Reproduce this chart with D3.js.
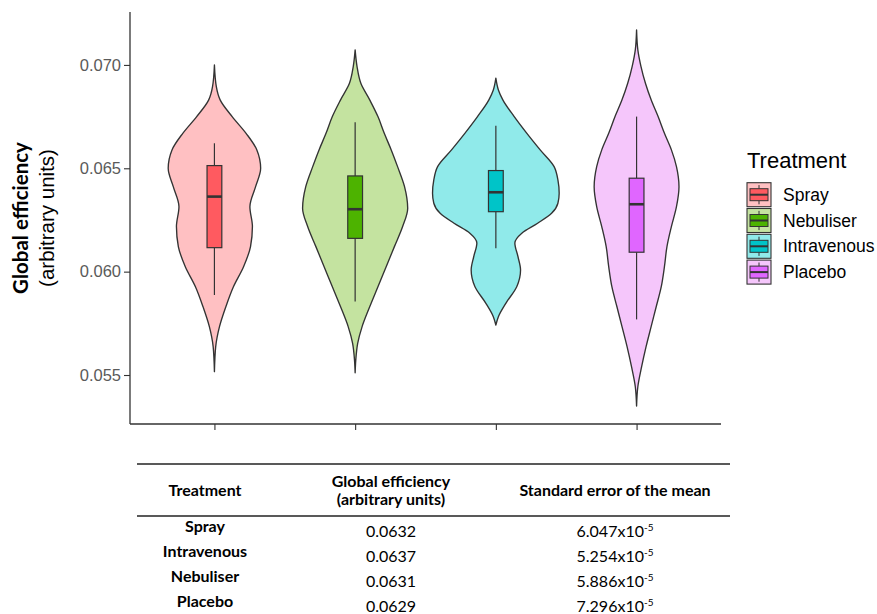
<!DOCTYPE html>
<html>
<head>
<meta charset="utf-8">
<script src="https://cdn.jsdelivr.net/npm/d3@7"></script>
<style>
  html, body { margin: 0; padding: 0; background: #fff; }
  svg { display: block; }
</style>
</head>
<body>
<svg id="chart" width="877" height="614"></svg>
<script>
// ---------------- DATA ----------------
const categories = ["Spray", "Nebuliser", "Intravenous", "Placebo"];
const yTicks = [0.055, 0.060, 0.065, 0.070];

// violin outlines: [value, relative density]
const sprayDensity = [[0.0700,0],[0.06895,0.03],[0.06831,0.09],[0.06750,0.28],[0.06669,0.50],[0.06589,0.67],[0.06500,0.73],[0.06411,0.65],[0.06314,0.56],[0.06218,0.60],[0.06121,0.57],[0.06024,0.46],[0.05927,0.30],[0.05830,0.18],[0.05734,0.08],[0.05637,0.02],[0.05516,0]];
const nebuliserDensity = [[0.07073,0],[0.06992,0.03],[0.06911,0.09],[0.06831,0.23],[0.06750,0.36],[0.06669,0.46],[0.06589,0.57],[0.06508,0.67],[0.06411,0.78],[0.06307,0.83],[0.06218,0.75],[0.06121,0.62],[0.06024,0.49],[0.05927,0.36],[0.05830,0.23],[0.05734,0.11],[0.05653,0.04],[0.05572,0.01],[0.05511,0]];
const intravenousDensity = [[0.06936,0],[0.06879,0.04],[0.06831,0.11],[0.06750,0.29],[0.06669,0.49],[0.06589,0.70],[0.06508,0.92],[0.06444,0.98],[0.06379,1.0],[0.06331,0.98],[0.06282,0.88],[0.06234,0.66],[0.06186,0.41],[0.06139,0.30],[0.06072,0.35],[0.06008,0.39],[0.05927,0.33],[0.05848,0.16],[0.05782,0.04],[0.05742,0]];
const placeboDensity = [[0.07169,0],[0.07073,0.02],[0.06992,0.07],[0.06911,0.14],[0.06831,0.23],[0.06750,0.34],[0.06669,0.44],[0.06589,0.55],[0.06508,0.63],[0.06411,0.67],[0.06314,0.63],[0.06218,0.55],[0.06121,0.48],[0.06024,0.44],[0.05927,0.39],[0.05830,0.31],[0.05734,0.23],[0.05637,0.15],[0.05540,0.08],[0.05443,0.02],[0.05350,0]];

// boxplot statistics (same order as categories)
const whiskerLow  = [0.05887, 0.05855, 0.06113, 0.05769];
const boxQ1       = [0.06116, 0.06161, 0.06290, 0.06094];
const boxMedian   = [0.06363, 0.06302, 0.06384, 0.06326];
const boxQ3       = [0.06513, 0.06463, 0.06489, 0.06452];
const whiskerHigh = [0.06621, 0.06723, 0.06706, 0.06750];

// table
const tableHeaders = ["Treatment", "Global efficiency", "(arbitrary units)", "Standard error of the mean"];
const tableTreatments = ["Spray", "Intravenous", "Nebuliser", "Placebo"];
const tableMeans = ["0.0632", "0.0637", "0.0631", "0.0629"];
const tableSEM = ["6.047", "5.254", "5.886", "7.296"];
const tableSEMExp = ["-5", "-5", "-5", "-5"];

// ---------------- STYLE ----------------
const violinFills = ["#FFC0C2", "#C4E3A0", "#90EAEA", "#F5C6FB"];
const boxFills = ["#FF5A60", "#4DB300", "#00C4C8", "#E066FF"];
const densities = [sprayDensity, nebuliserDensity, intravenousDensity, placeboDensity];
const ink = "#333333";

const svg = d3.select("#chart");
const plot = { left: 130, right: 721, top: 12, bottom: 424 };

const x = d3.scalePoint().domain(categories).range([plot.left, plot.right]).padding(0.6);
const y = d3.scaleLinear().domain([0.05263, 0.07256]).range([plot.bottom, plot.top]);
const step = x.step();
const w = d3.scaleLinear().domain([0, 1]).range([0, step * 0.45]);
const boxHalf = step * 0.105 / 2;

// violins
categories.forEach((c, i) => {
  const cx = x(c);
  const area = d3.area()
    .y(d => y(d[0]))
    .x0(d => cx - w(d[1]))
    .x1(d => cx + w(d[1]))
    .curve(d3.curveMonotoneY);
  const data = densities[i].slice().sort((a, b) => a[0] - b[0]);
  svg.append("path")
    .attr("d", area(data))
    .attr("fill", violinFills[i])
    .attr("stroke", ink)
    .attr("stroke-width", 1.35)
    .attr("stroke-linejoin", "round");
});

// boxplots
categories.forEach((c, i) => {
  const cx = x(c);
  const g = svg.append("g");
  g.append("line").attr("x1", cx).attr("x2", cx)
    .attr("y1", y(whiskerHigh[i])).attr("y2", y(boxQ3[i]))
    .attr("stroke", ink).attr("stroke-width", 1.2);
  g.append("line").attr("x1", cx).attr("x2", cx)
    .attr("y1", y(boxQ1[i])).attr("y2", y(whiskerLow[i]))
    .attr("stroke", ink).attr("stroke-width", 1.2);
  g.append("rect")
    .attr("x", cx - boxHalf).attr("width", boxHalf * 2)
    .attr("y", y(boxQ3[i])).attr("height", y(boxQ1[i]) - y(boxQ3[i]))
    .attr("fill", boxFills[i]).attr("stroke", ink).attr("stroke-width", 1.2);
  g.append("line").attr("x1", cx - boxHalf).attr("x2", cx + boxHalf)
    .attr("y1", y(boxMedian[i])).attr("y2", y(boxMedian[i]))
    .attr("stroke", ink).attr("stroke-width", 2.6);
});

// axes
const yAxis = d3.axisLeft(y).tickValues(yTicks).tickFormat(d3.format(".3f")).tickSize(6).tickPadding(3);
const gy = svg.append("g").attr("transform", `translate(${plot.left},0)`).call(yAxis);
gy.select(".domain").attr("d", `M0,${plot.top}V${plot.bottom}`).attr("stroke", ink).attr("stroke-width", 1.3);
gy.selectAll(".tick line").attr("stroke", ink).attr("stroke-width", 1.1);
gy.selectAll(".tick text").attr("fill", "#5a5a5a").attr("font-family", "Liberation Sans, Arial, sans-serif").attr("font-size", 16.5);

const xAxis = d3.axisBottom(x).tickSize(6).tickFormat("");
const gx = svg.append("g").attr("transform", `translate(0,${plot.bottom})`).call(xAxis);
gx.select(".domain").attr("d", `M${plot.left},0H${plot.right}`).attr("stroke", ink).attr("stroke-width", 1.3);
gx.selectAll(".tick line").attr("stroke", ink).attr("stroke-width", 1.1);

// y-axis title
const cyT = (plot.top + plot.bottom) / 2;
svg.append("text")
  .attr("transform", `translate(28,${cyT}) rotate(-90)`)
  .attr("text-anchor", "middle")
  .attr("font-family", "Lato, sans-serif").attr("font-weight", "bold").attr("font-size", 20.5)
  .attr("fill", "#000").text("Global efficiency");
svg.append("text")
  .attr("transform", `translate(54,${cyT}) rotate(-90)`)
  .attr("text-anchor", "middle")
  .attr("font-family", "Liberation Sans, Arial, sans-serif").attr("font-size", 20.5)
  .attr("fill", "#000").text("(arbitrary units)");

// legend
const lg = svg.append("g").attr("transform", "translate(747,0)");
lg.append("text").attr("x", 0).attr("y", 168)
  .attr("font-family", "Liberation Sans, Arial, sans-serif").attr("font-size", 22)
  .attr("fill", "#000").text("Treatment");
const keySize = 24, keyStep = 25.8, keyTop = 182.7;
categories.forEach((c, i) => {
  const ky = keyTop + i * keyStep;
  const k = lg.append("g").attr("transform", `translate(0,${ky})`);
  k.append("rect").attr("x", 0).attr("y", 0).attr("width", keySize).attr("height", keySize)
    .attr("fill", violinFills[i]).attr("stroke", ink).attr("stroke-width", 1.1);
  const kc = keySize / 2;
  k.append("line").attr("x1", kc).attr("x2", kc).attr("y1", keySize * 0.1).attr("y2", keySize * 0.25)
    .attr("stroke", ink).attr("stroke-width", 1);
  k.append("line").attr("x1", kc).attr("x2", kc).attr("y1", keySize * 0.75).attr("y2", keySize * 0.9)
    .attr("stroke", ink).attr("stroke-width", 1);
  k.append("rect").attr("x", keySize * 0.125).attr("y", keySize * 0.25)
    .attr("width", keySize * 0.75).attr("height", keySize * 0.5)
    .attr("fill", boxFills[i]).attr("stroke", ink).attr("stroke-width", 1);
  k.append("line").attr("x1", keySize * 0.125).attr("x2", keySize * 0.875)
    .attr("y1", kc).attr("y2", kc).attr("stroke", ink).attr("stroke-width", 2);
  lg.append("text").attr("x", 36).attr("y", ky + kc + 6)
    .attr("font-family", "Liberation Sans, Arial, sans-serif").attr("font-size", 17.5)
    .attr("fill", "#000").text(c);
});

// table
const tb = svg.append("g");
const tFont = "Lato, 'Open Sans', sans-serif";
const tSize = 16;
const colX = [205, 391, 615];
tb.append("line").attr("x1", 137).attr("x2", 730).attr("y1", 464).attr("y2", 464)
  .attr("stroke", "#222").attr("stroke-width", 1.6);
tb.append("line").attr("x1", 137).attr("x2", 730).attr("y1", 516).attr("y2", 516)
  .attr("stroke", "#222").attr("stroke-width", 1.6);
const hdr = (txt, xx, yy) => tb.append("text").attr("x", xx).attr("y", yy)
  .attr("text-anchor", "middle").attr("font-family", tFont).attr("font-weight", "bold")
  .attr("font-size", tSize).attr("fill", "#000").text(txt);
hdr(tableHeaders[0], colX[0], 496);
hdr(tableHeaders[1], colX[1], 486.5);
hdr(tableHeaders[2], colX[1], 505);
hdr(tableHeaders[3], colX[2], 496);
tableTreatments.forEach((t, i) => {
  const by = 532 + i * 25;
  tb.append("text").attr("x", colX[0]).attr("y", by)
    .attr("text-anchor", "middle").attr("font-family", tFont).attr("font-weight", "bold")
    .attr("font-size", tSize).attr("fill", "#000").text(t);
  const vy = 537 + i * 25;
  tb.append("text").attr("x", colX[1]).attr("y", vy)
    .attr("text-anchor", "middle").attr("font-family", tFont)
    .attr("font-size", tSize).attr("fill", "#000").text(tableMeans[i]);
  const st = tb.append("text").attr("x", colX[2]).attr("y", vy)
    .attr("text-anchor", "middle").attr("font-family", tFont)
    .attr("font-size", tSize).attr("fill", "#000");
  st.append("tspan").text(tableSEM[i] + "x10");
  st.append("tspan").attr("dy", -6).attr("font-size", 10).text(tableSEMExp[i]);
});
</script>
</body>
</html>
